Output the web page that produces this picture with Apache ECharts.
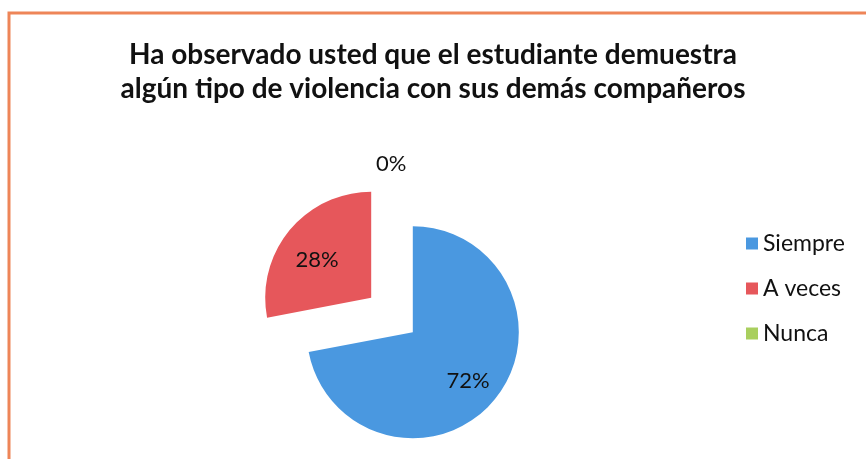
<!DOCTYPE html>
<html>
<head>
<meta charset="utf-8">
<script src="https://cdn.jsdelivr.net/npm/echarts@6/dist/echarts.min.js"></script>
<style>
html,body{margin:0;padding:0;background:#fff;}
#main{width:866px;height:459px;}
</style>
</head>
<body>
<div id="main"></div>
<script>
const titleLines = ['Ha observado usted que el estudiante demuestra', 'algún tipo de violencia con sus demás compañeros'];
const categories = ['Siempre', 'A veces', 'Nunca'];
const values = [72, 28, 0];
const colors = ['#4A98E0', '#E6575B', '#A9CF5E'];

const chart = echarts.init(document.getElementById('main'));
const valueStyle = { fontFamily: 'Lato', fontSize: 22, color: '#111' };
const data = categories.map((c, i) => {
  const item = {
    name: c,
    value: values[i],
    itemStyle: { color: colors[i] },
    selected: i < 2
  };
  if (i === 0) {
    item.label = {
      formatter: '{gap|}\n{v|{d}%}',
      padding: [0, 0, 0, 24],
      rich: { gap: { lineHeight: 26, fontSize: 1 }, v: valueStyle }
    };
  } else if (i === 1) {
    item.label = {
      formatter: '{v|{d}%}\n{gap|}',
      padding: [0, 22, 0, 0],
      rich: { gap: { lineHeight: 4, fontSize: 1 }, v: valueStyle }
    };
  } else {
    item.label = { position: 'outside', distanceToLabelLine: 0, offset: [-16, -23] };
    item.labelLine = { show: false, length: 22, length2: 0 };
  }
  return item;
});
chart.setOption({
  animation: false,
  backgroundColor: '#fff',
  title: {
    text: titleLines.join('\n'),
    left: 'center',
    top: 33,
    textStyle: { fontFamily: 'Lato', fontWeight: 'bold', fontSize: 28, lineHeight: 34, color: '#111' }
  },
  legend: {
    orient: 'vertical',
    left: 741,
    top: 227,
    itemWidth: 12,
    itemHeight: 12,
    itemGap: 22,
    icon: 'rect',
    textStyle: { fontFamily: 'Lato', fontSize: 23, color: '#111' },
    data: categories
  },
  graphic: [{
    type: 'rect',
    shape: { x: 9, y: 13, width: 900, height: 500 },
    style: { fill: 'none', stroke: '#EE8558', lineWidth: 3 },
    silent: true
  }],
  series: [{
    type: 'pie',
    center: [392, 315],
    radius: [0, 106],
    startAngle: 90,
    clockwise: true,
    selectedMode: 'multiple',
    selectedOffset: 27,
    avoidLabelOverlap: false,
    label: {
      show: true,
      position: 'inside',
      formatter: '{d}%',
      fontFamily: 'Lato',
      fontSize: 22,
      color: '#111'
    },
    labelLine: { show: false },
    emphasis: { disabled: true },
    data: data
  }]
});
</script>
</body>
</html>
